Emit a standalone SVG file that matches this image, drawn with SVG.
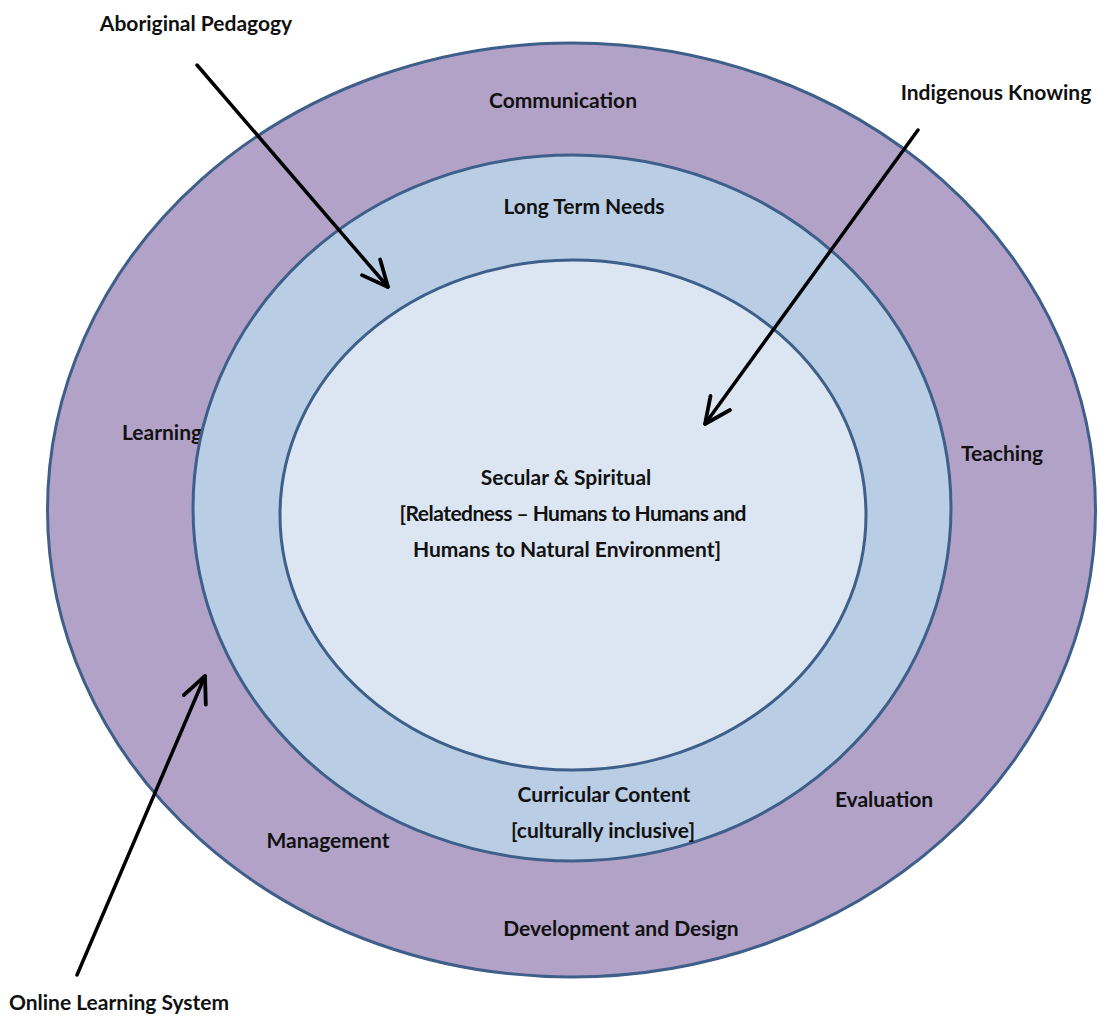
<svg xmlns="http://www.w3.org/2000/svg" width="1099" height="1019" viewBox="0 0 1099 1019">
  <style>
    .ring { stroke: #3e5f8a; stroke-width: 3; }
    .lbl { font-family: Lato, "Open Sans", "Liberation Sans", sans-serif; font-weight: 700; font-size: 21px; fill: #111; text-anchor: middle; }
    .arrow { stroke: #000; stroke-width: 3.5; fill: none; stroke-linecap: round; }
  </style>
  <defs>
    <marker id="openHead" viewBox="0 0 30 30" refX="28" refY="15" markerWidth="30" markerHeight="30" markerUnits="userSpaceOnUse" orient="auto">
      <path d="M2,3 L28,15 L2,27" fill="none" stroke="#000" stroke-width="3.8" stroke-linecap="round" stroke-linejoin="round"/>
    </marker>
  </defs>
  <rect width="1099" height="1019" fill="#fff"/>

  <!-- concentric layers -->
  <g id="outer-ring">
    <ellipse class="ring" cx="571.5" cy="510" rx="524" ry="467" fill="#b3a2c7"/>
    <text class="lbl" x="563" y="108">Communication</text>
    <text class="lbl" x="162" y="440">Learning</text>
    <text class="lbl" x="1002" y="461">Teaching</text>
    <text class="lbl" x="884" y="807">Evaluation</text>
    <text class="lbl" x="328" y="848">Management</text>
    <text class="lbl" x="621" y="936">Development and Design</text>
  </g>
  <g id="middle-ring">
    <ellipse class="ring" cx="572" cy="508" rx="379" ry="353" fill="#b9cde5"/>
    <text class="lbl" x="584" y="214">Long Term Needs</text>
    <text class="lbl" x="604" y="802">Curricular Content</text>
    <text class="lbl" x="603" y="838">[culturally inclusive]</text>
  </g>
  <g id="core">
    <ellipse class="ring" cx="573" cy="515" rx="293" ry="255" fill="#dce6f2"/>
    <text class="lbl" x="566" y="485">Secular &amp; Spiritual</text>
    <text class="lbl" x="573" y="521" textLength="347" lengthAdjust="spacing">[Relatedness – Humans to Humans and</text>
    <text class="lbl" x="567" y="557">Humans to Natural Environment]</text>
  </g>

  <!-- outside influences -->
  <g id="aboriginal-pedagogy">
    <text class="lbl" x="196" y="31">Aboriginal Pedagogy</text>
  </g>
  <g id="indigenous-knowing">
    <text class="lbl" x="996" y="100">Indigenous Knowing</text>
  </g>
  <g id="online-learning-system">
    <text class="lbl" x="119" y="1010">Online Learning System</text>
  </g>

  <g id="connectors">
    <line class="arrow" x1="197" y1="65" x2="388" y2="287" marker-end="url(#openHead)"/>
    <line class="arrow" x1="918" y1="130" x2="705" y2="424" marker-end="url(#openHead)"/>
    <line class="arrow" x1="77" y1="975" x2="205" y2="676" marker-end="url(#openHead)"/>
  </g>
</svg>
